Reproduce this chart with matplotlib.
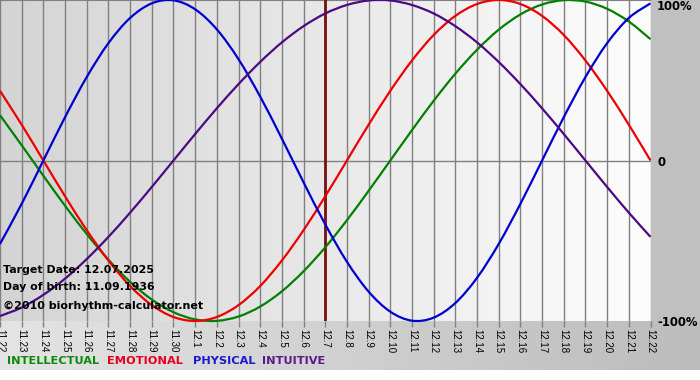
import numpy as np
import matplotlib
matplotlib.use('Agg')
import matplotlib.pyplot as plt
from matplotlib.colors import LinearSegmentedColormap
from matplotlib.path import Path
from matplotlib.patches import PathPatch

# ── Data ───────────────────────────────────────────────────────
dates = ['11.22', '11.23', '11.24', '11.25', '11.26', '11.27', '11.28', '11.29', '11.30',
         '12.1', '12.2', '12.3', '12.4', '12.5', '12.6', '12.7', '12.8', '12.9', '12.10',
         '12.11', '12.12', '12.13', '12.14', '12.15', '12.16', '12.17', '12.18', '12.19',
         '12.20', '12.21', '12.22']
target_date = '12.7'

intellectual = [0.282, 0.095, -0.095, -0.282, -0.458, -0.618, -0.756, -0.866, -0.945, -0.990,
                -0.999, -0.972, -0.910, -0.815, -0.690, -0.541, -0.372, -0.189, 0.0, 0.189,
                0.372, 0.541, 0.690, 0.815, 0.910, 0.972, 0.999, 0.990, 0.945, 0.866, 0.756]
emotional = [0.434, 0.223, 0.0, -0.223, -0.434, -0.623, -0.782, -0.901, -0.975, -1.0,
             -0.975, -0.901, -0.782, -0.623, -0.434, -0.223, 0.0, 0.223, 0.434, 0.623,
             0.782, 0.901, 0.975, 1.0, 0.975, 0.901, 0.782, 0.623, 0.434, 0.223, 0.0]
physical = [-0.520, -0.270, 0.0, 0.270, 0.520, 0.731, 0.888, 0.979, 0.998, 0.942,
            0.817, 0.631, 0.398, 0.136, -0.136, -0.398, -0.631, -0.817, -0.942, -0.998,
            -0.979, -0.888, -0.731, -0.520, -0.270, 0.0, 0.270, 0.520, 0.731, 0.888, 0.979]
intuitive = [-0.969, -0.916, -0.837, -0.736, -0.614, -0.476, -0.325, -0.165, 0.0, 0.165,
             0.325, 0.476, 0.614, 0.736, 0.837, 0.916, 0.969, 0.997, 0.997, 0.969,
             0.916, 0.837, 0.736, 0.614, 0.476, 0.325, 0.165, 0.0, -0.165, -0.325, -0.476]

series_names = ['INTELLECTUAL', 'EMOTIONAL', 'PHYSICAL', 'INTUITIVE']
info_lines = ['Target Date: 12.07.2025', 'Day of birth: 11.09.1936']
copyright_txt = '\u00a92010 biorhythm-calculator.net'
y_labels = ['100%', '0', '-100%']

# ── Style ──────────────────────────────────────────────────────
COLORS = {'INTELLECTUAL': '#008000', 'EMOTIONAL': '#ee0000',
          'PHYSICAL': '#0000d0', 'INTUITIVE': '#4b0a82'}
LEGEND_COLORS = {'INTELLECTUAL': '#0a8a0a', 'EMOTIONAL': '#e8001c',
                 'PHYSICAL': '#1a1ad0', 'INTUITIVE': '#5a1a8a'}
LEGEND_X = [7, 107, 193, 262]
W, H = 700, 380
plt.rcParams.update({'font.family': 'DejaVu Sans'})

fig = plt.figure(figsize=(W / 100, H / 100), dpi=100, facecolor='white')

# background pieces (pixel coords -> figure fractions)
def px_axes(x0, y0, x1, y1, **kw):
    return fig.add_axes([x0 / W, 1 - y1 / H, (x1 - x0) / W, (y1 - y0) / H], **kw)

grad = np.linspace(0, 1, 256).reshape(1, -1)

bg_bottom = px_axes(0, 321, 700, 370)
bg_bottom.imshow(grad, aspect='auto', extent=[0, 1, 0, 1],
                 cmap=LinearSegmentedColormap.from_list('b', ['#e4e4e4', '#bcbcbc']))
bg_bottom.axis('off')

bg_right = px_axes(651, 0, 700, 321)
bg_right.set_facecolor('#c0c0c0')
bg_right.set_xticks([]); bg_right.set_yticks([])
for s in bg_right.spines.values():
    s.set_visible(False)

# smooth curve through the daily points (cubic Bezier, Catmull-Rom tangents)
def smooth_path(xs, ys):
    P = np.column_stack([xs, ys]).astype(float)
    Pm = np.vstack([P[0], P, P[-1]])
    verts = [P[0]]
    codes = [Path.MOVETO]
    for i in range(len(P) - 1):
        c1 = P[i] + (Pm[i + 2] - Pm[i]) / 6
        c2 = P[i + 1] - (Pm[i + 3] - Pm[i + 1]) / 6
        verts += [c1, c2, P[i + 1]]
        codes += [Path.CURVE4] * 3
    return Path(verts, codes)

# ── Main plot ──────────────────────────────────────────────────
ax = px_axes(0, 0, 650.5, 321)
x = np.arange(len(dates))
ax.imshow(grad, aspect='auto', extent=[0, len(dates) - 1, -1, 1], zorder=0,
          cmap=LinearSegmentedColormap.from_list('p', ['#d4d4d4', '#fdfdfd']))
ax.set_xlim(0, len(dates) - 1)
ax.set_ylim(-1, 1)

for xi in x:
    ax.axvline(xi, color='#808080', lw=1, zorder=1)
ax.axhline(0, color='#808080', lw=1, zorder=1)
ax.axhline(1, color='#808080', lw=1.5, zorder=1)
ax.axvline(dates.index(target_date), color='#7a1010', lw=2, zorder=2)

for name, vals in zip(series_names, [intellectual, emotional, physical, intuitive]):
    ax.add_patch(PathPatch(smooth_path(x, vals), fill=False, ec=COLORS[name],
                           lw=1.6, zorder=3, clip_on=False))

for s in ax.spines.values():
    s.set_visible(False)
ax.set_yticks([])
ax.set_xticks(x)
ax.set_xticklabels(dates, rotation=270, fontsize=7, color='black',
                   family='Liberation Sans')
ax.tick_params(axis='x', length=4, width=1, color='#808080', pad=2)

# info text
ax.text(3 / 650.5, 1 - 270 / 321, info_lines[0], transform=ax.transAxes,
        fontsize=7.9, fontweight='bold', va='center', ha='left', zorder=5)
ax.text(3 / 650.5, 1 - 287 / 321, info_lines[1], transform=ax.transAxes,
        fontsize=7.9, fontweight='bold', va='center', ha='left', zorder=5)
ax.text(3 / 650.5, 1 - 306 / 321, copyright_txt, transform=ax.transAxes,
        fontsize=8.0, fontweight='bold', va='center', ha='left', zorder=5)

# right side labels
for lbl, ypx in zip(y_labels, [7, 162, 322]):
    fig.text(657 / W, 1 - ypx / H, lbl, fontsize=8.4, fontweight='bold',
             va='center', ha='left')

# legend row
for name, xp in zip(series_names, LEGEND_X):
    fig.text(xp / W, 1 - 361 / H, name, fontsize=8.2, fontweight='bold',
             color=LEGEND_COLORS[name], va='center', ha='left')

fig.savefig('out.png', dpi=100, facecolor='white')
plt.close()
